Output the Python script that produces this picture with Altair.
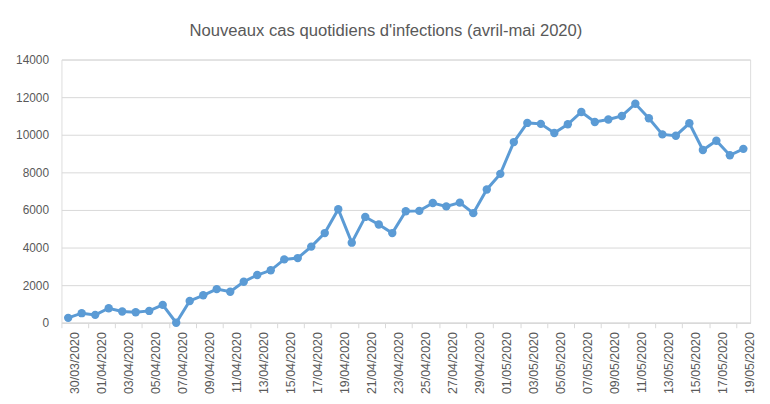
import altair as alt
import pandas as pd

dates = [
    "30/03/2020", "31/03/2020",
    "01/04/2020", "02/04/2020", "03/04/2020", "04/04/2020", "05/04/2020",
    "06/04/2020", "07/04/2020", "08/04/2020", "09/04/2020", "10/04/2020",
    "11/04/2020", "12/04/2020", "13/04/2020", "14/04/2020", "15/04/2020",
    "16/04/2020", "17/04/2020", "18/04/2020", "19/04/2020", "20/04/2020",
    "21/04/2020", "22/04/2020", "23/04/2020", "24/04/2020", "25/04/2020",
    "26/04/2020", "27/04/2020", "28/04/2020", "29/04/2020", "30/04/2020",
    "01/05/2020", "02/05/2020", "03/05/2020", "04/05/2020", "05/05/2020",
    "06/05/2020", "07/05/2020", "08/05/2020", "09/05/2020", "10/05/2020",
    "11/05/2020", "12/05/2020", "13/05/2020", "14/05/2020", "15/05/2020",
    "16/05/2020", "17/05/2020", "18/05/2020", "19/05/2020",
]

cases = [
    260, 510, 420, 770, 600, 560, 630, 950, 0, 1160,
    1460, 1790, 1650, 2180, 2540, 2790, 3370, 3440, 4050, 4770,
    6040, 4260, 5630, 5230, 4770, 5930, 5950, 6370, 6190, 6390,
    5830, 7090, 7920, 9610, 10630, 10580, 10090, 10560, 11210, 10680,
    10810, 11000, 11650, 10880, 10020, 9950, 10610, 9190, 9680, 8910,
    9250,
]

y_ticks = [0, 2000, 4000, 6000, 8000, 10000, 12000, 14000]
title_text = "Nouveaux cas quotidiens d'infections (avril-mai 2020)"

df = pd.DataFrame({"date": dates, "cas": cases})

W = 696
H = 266
band = W / len(dates)

x_enc = alt.X(
    "date:O",
    sort=dates,
    title=None,
    scale=alt.Scale(type="band", paddingInner=0, paddingOuter=0),
    axis=alt.Axis(
        values=dates[::2],
        bandPosition=0,
        labelOffset=band / 2,
        labelAngle=-90,
        labelFont="Liberation Sans",
        labelFontSize=12.5,
        labelColor="#595959",
        labelPadding=4,
        tickColor="#D9D9D9",
        tickSize=5,
        tickWidth=1,
        domainColor="#D9D9D9",
        domainWidth=1.5,
        grid=False,
    ),
)

y_enc = alt.Y(
    "cas:Q",
    title=None,
    scale=alt.Scale(domain=[0, 14000], nice=False),
    axis=alt.Axis(
        values=y_ticks,
        format="d",
        domain=False,
        ticks=False,
        labelFont="Liberation Sans",
        labelFontSize=12,
        labelColor="#595959",
        labelPadding=13,
        gridColor="#D9D9D9",
        gridWidth=1,
    ),
)

base = alt.Chart(df).encode(x=x_enc, y=y_enc)

line = base.mark_line(color="#5B9BD5", strokeWidth=3)
pts = base.mark_point(filled=True, color="#5B9BD5", size=72, opacity=1)

chart = (
    alt.layer(line, pts)
    .properties(
        width=W,
        height=H,
        title=alt.TitleParams(
            text=title_text,
            font="Liberation Sans",
            fontSize=16.8,
            fontWeight="normal",
            color="#595959",
            anchor="middle",
            dx=-20,
            offset=14,
        ),
        autosize=alt.AutoSizeParams(type="none"),
        padding={"left": 54, "top": 50, "right": 12, "bottom": 80},
    )
    .configure_view(stroke=None)
    .configure(background="white")
)

chart.save("out.html", embed_options={"renderer": "svg", "actions": False})
